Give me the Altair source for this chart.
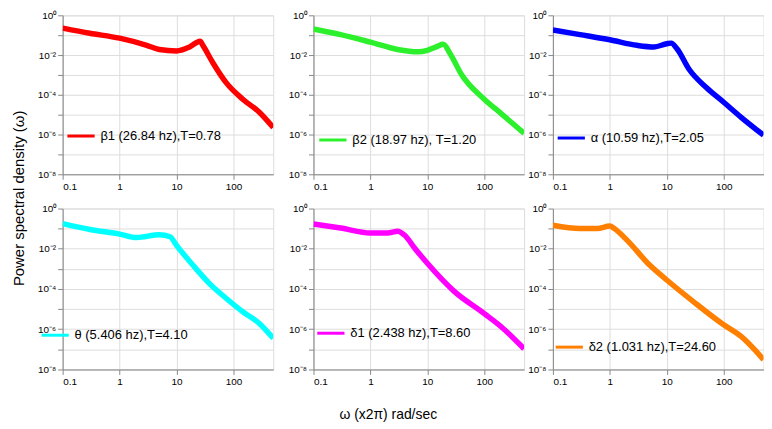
import altair as alt
import pandas as pd

# ---- data (frequency, power spectral density) ----
b1_f = [0.1, 0.3, 1, 3, 5, 10, 17, 26, 29, 44, 75, 146, 285, 500]
b1_p = [0.229, 0.126, 0.0708, 0.0309, 0.0191, 0.0162, 0.0257, 0.0501, 0.0309,
        3.89e-3, 3.98e-4, 6.0e-5, 1.32e-5, 2.24e-6]

b2_f = [0.1, 0.3, 1, 3, 7, 10, 15, 19, 25, 40, 100, 200, 500]
b2_p = [0.204, 0.107, 0.0447, 0.0191, 0.0145, 0.0174, 0.0275, 0.0347, 0.0120,
        1.02e-3, 6.0e-5, 1.1e-5, 1.15e-6]

al_f = [0.1, 0.3, 1, 3, 6, 10, 12, 15, 25, 50, 100, 200, 500]
al_p = [0.182, 0.107, 0.0589, 0.0309, 0.0257, 0.0372, 0.0398, 0.0214, 1.82e-3,
        2.24e-4, 4.2e-5, 7.6e-6, 9.3e-7]

th_f = [0.1, 0.3, 1, 2, 5, 7.7, 10, 19.5, 38, 75, 146, 285, 500]
th_p = [0.178, 0.0912, 0.0537, 0.0363, 0.0501, 0.0398, 0.0148, 1.51e-3, 1.86e-4,
        3.39e-5, 7.4e-6, 1.95e-6, 3.55e-7]

d1_f = [0.1, 0.3, 1, 2, 3, 4, 6, 10, 30, 100, 200, 500]
d1_p = [0.170, 0.107, 0.0603, 0.0603, 0.0741, 0.0468, 0.0107, 1.9e-3, 7.4e-5,
        6.0e-6, 1.3e-6, 1.07e-7]

d2_f = [0.1, 0.3, 0.6, 1, 1.2, 2, 5, 10, 30, 100, 200, 500]
d2_p = [0.148, 0.102, 0.102, 0.135, 0.102, 0.0269, 1.55e-3, 2.8e-4, 2.24e-5,
        1.66e-6, 4.5e-7, 3.1e-8]

labels = [
    "β1 (26.84 hz),T=0.78",
    "β2 (18.97 hz), T=1.20",
    "α (10.59 hz),T=2.05",
    "θ (5.406 hz),T=4.10",
    "δ1 (2.438 hz),T=8.60",
    "δ2 (1.031 hz),T=24.60",
]
colors = ["#ff0000", "#2cf02c", "#0000ff", "#00ffff", "#ff00ff", "#ff7f00"]

x_ticks = [0.1, 1, 10, 100]
y_ticks = [1, 1e-1, 1e-2, 1e-3, 1e-4, 1e-5, 1e-6, 1e-7, 1e-8]

FONT = "Liberation Sans"
W = 212

ylabel_expr = (
    "round(-log(datum.value)/LN10) % 2 == 1 ? '' : "
    "'10' + (datum.value >= 1 ? '⁰' : '⁻' + "
    "['⁰','¹','²','³','⁴','⁵','⁶','⁷','⁸','⁹'][round(-log(datum.value)/LN10)])"
)


def panel(fs, ps, label, color, lx, ly, h):
    df = pd.DataFrame({"f": fs, "p": ps, "s": [label] * len(fs)})
    return (
        alt.Chart(df)
        .mark_line(strokeWidth=5.5, interpolate="monotone", clip=True)
        .encode(
            x=alt.X(
                "f:Q",
                scale=alt.Scale(type="log", domain=[0.1, 500], nice=False),
                axis=alt.Axis(values=x_ticks, format="~g", title=None),
            ),
            y=alt.Y(
                "p:Q",
                scale=alt.Scale(type="log", domain=[1e-8, 1], nice=False),
                axis=alt.Axis(values=y_ticks, labelExpr=ylabel_expr, title=None,
                              labelOverlap=False),
            ),
            color=alt.Color(
                "s:N",
                scale=alt.Scale(domain=[label], range=[color]),
                legend=alt.Legend(
                    title=None,
                    orient="none",
                    legendX=lx,
                    legendY=ly,
                    symbolType="stroke",
                    symbolStrokeWidth=3,
                    symbolSize=750,
                    labelFontSize=13,
                    labelFont=FONT,
                    labelOffset=4,
                    padding=0,
                ),
            ),
        )
        .properties(width=W, height=h)
    )


H1, H2 = 160, 162
p1 = panel(b1_f, b1_p, labels[0], colors[0], 3, 106, H1)
p2 = panel(b2_f, b2_p, labels[1], colors[1], 4, 110, H1)
p3 = panel(al_f, al_p, labels[2], colors[2], 3, 108, H1)
p4 = panel(th_f, th_p, labels[3], colors[3], -23, 112, H2)
p5 = panel(d1_f, d1_p, labels[4], colors[4], 2, 110, H2)
p6 = panel(d2_f, d2_p, labels[5], colors[5], 1, 124, H2)


def indep(c):
    return c.resolve_scale(color="independent").resolve_legend(color="independent")


def row(a, b, c):
    return indep(alt.hconcat(indep(alt.hconcat(a, b, spacing=13.5)), c, spacing=2.5))


grid = indep(alt.vconcat(row(p1, p2, p3), row(p4, p5, p6), spacing=10.5)).properties(
    title=alt.TitleParams(
        "Power spectral density (ω)",
        orient="left",
        anchor="middle",
        fontSize=15,
        fontWeight="normal",
        font=FONT,
        offset=9.5,
    )
)

chart = (
    indep(alt.vconcat(grid))
    .properties(
        title=alt.TitleParams(
            "ω (x2π) rad/sec",
            orient="bottom",
            anchor="middle",
            fontSize=14,
            fontWeight="normal",
            font=FONT,
            offset=21,
        )
    )
    .configure_view(stroke="#999999", strokeWidth=1)
    .configure_axis(
        grid=False,
        domainColor="#999999",
        tickColor="#999999",
        tickSize=3,
        labelFont=FONT,
        labelFontSize=12,
        labelColor="#000000",
        labelPadding=2,
    )
    .configure(background="white", padding={"top": 0, "left": 4, "right": 0, "bottom": 0})
)

chart.save("out.html", embed_options={"renderer": "svg", "actions": False})
